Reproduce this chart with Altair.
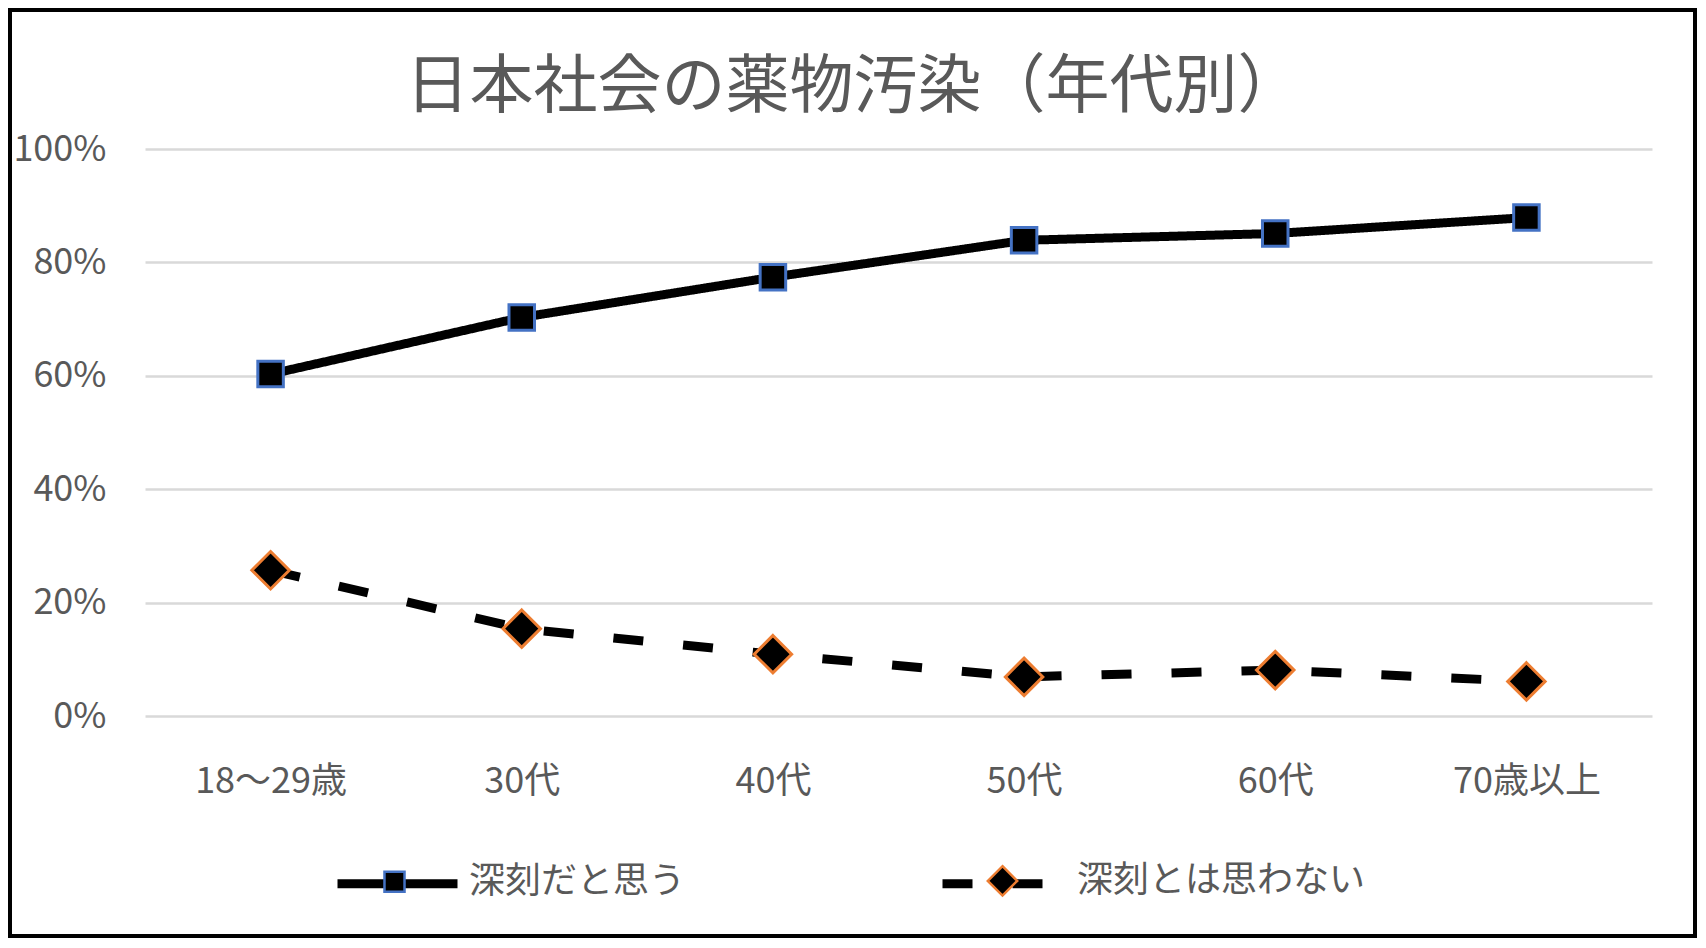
import altair as alt
import pandas as pd

# ---- data ----
ages = ["18〜29歳", "30代", "40代", "50代", "60代", "70歳以上"]
serious = [0.603, 0.703, 0.774, 0.839, 0.851, 0.879]
not_serious = [0.257, 0.154, 0.109, 0.069, 0.081, 0.061]
series_names = ["深刻だと思う", "深刻とは思わない"]
title_text = "日本社会の薬物汚染（年代別）"
y_ticks = [0, 0.2, 0.4, 0.6, 0.8, 1.0]

rows = []
for s, vals in zip(series_names, [serious, not_serious]):
    for a, v in zip(ages, vals):
        rows.append({"age": a, "value": v, "line_series": s, "point_series": s})
df = pd.DataFrame(rows)

FONT = "Noto Sans CJK JP"
GRAY = "#595959"
W, H = 1507, 567
PAD = {"left": 137, "top": 141, "right": 45, "bottom": 222}

# invisible move-to points widen the symbol bounds
EXT = "M-1.054,0M1.054,0"
SQ = EXT + "M-0.167,-0.167H0.167V0.167H-0.167Z"
DIA = EXT + "M0,-0.245L0.245,0L0,0.245L-0.245,0Z"

x_enc = alt.X(
    "age:N", sort=ages, scale=alt.Scale(type="point", padding=0.5),
    axis=alt.Axis(title=None, labelAngle=0, ticks=False, domain=False, grid=False,
                  labelPadding=48, labelFontSize=36, labelFont=FONT, labelColor=GRAY,
                  labelLimit=400),
)
y_enc = alt.Y(
    "value:Q", scale=alt.Scale(domain=[0, 1]),
    axis=alt.Axis(values=y_ticks, format=".0%", title=None, ticks=False, domain=False,
                  labelPadding=39, labelFontSize=36, labelFont=FONT, labelColor=GRAY,
                  grid=True, gridColor="#d9d9d9", gridWidth=2.5),
)

common_legend = dict(orient="none", legendX=188, legendY=670, direction="horizontal",
                     title=None, symbolSize=14400, labelFontSize=36, labelFont=FONT,
                     labelColor=GRAY, labelOffset=13, padding=0, labelLimit=600)

# line part of the legend (no label text), the markers + labels come from the point legend
line = alt.Chart(df).mark_line(color="black", strokeWidth=9, strokeJoin="round").encode(
    x=x_enc, y=y_enc,
    strokeDash=alt.StrokeDash(
        "line_series:N", scale=alt.Scale(range=[[1, 0], [30, 40]]),
        legend=alt.Legend(symbolType="stroke", symbolStrokeColor="black",
                          symbolStrokeWidth=9, labelExpr="''", columnPadding=448,
                          **common_legend),
    ),
)

pt_legend = alt.Legend(symbolFillColor="black", symbolStrokeWidth=2.5, symbolOpacity=1,
                       columnPadding=248, **common_legend)
points = alt.Chart(df).mark_point(filled=True, fill="black", opacity=1, size=23350,
                                  strokeWidth=3).encode(
    x=x_enc, y=y_enc,
    shape=alt.Shape("point_series:N", scale=alt.Scale(range=[SQ, DIA]), legend=pt_legend),
    stroke=alt.Stroke("point_series:N", scale=alt.Scale(range=["#4472C4", "#ED7D31"]),
                      legend=pt_legend),
)

frame = alt.Chart(pd.DataFrame({"k": [0]})).mark_rect(
    fillOpacity=0, stroke="black", strokeWidth=4
).encode(
    x=alt.value(-PAD["left"] + 2), x2=alt.value(W + PAD["right"] - 2),
    y=alt.value(-PAD["top"] + 2), y2=alt.value(H + PAD["bottom"] - 2),
)

chart = alt.layer(line, points, frame).properties(
    width=W, height=H,
    padding=PAD,
    autosize=alt.AutoSizeParams(type="none"),
    title=alt.TitleParams(text=title_text, font=FONT, fontSize=64, fontWeight="normal",
                          color=GRAY, anchor="middle", dx=-45, baseline="middle",
                          offset=-144, frame="group"),
).configure_view(stroke=None)

chart.save("out.html", embed_options={"renderer": "svg", "actions": False})
